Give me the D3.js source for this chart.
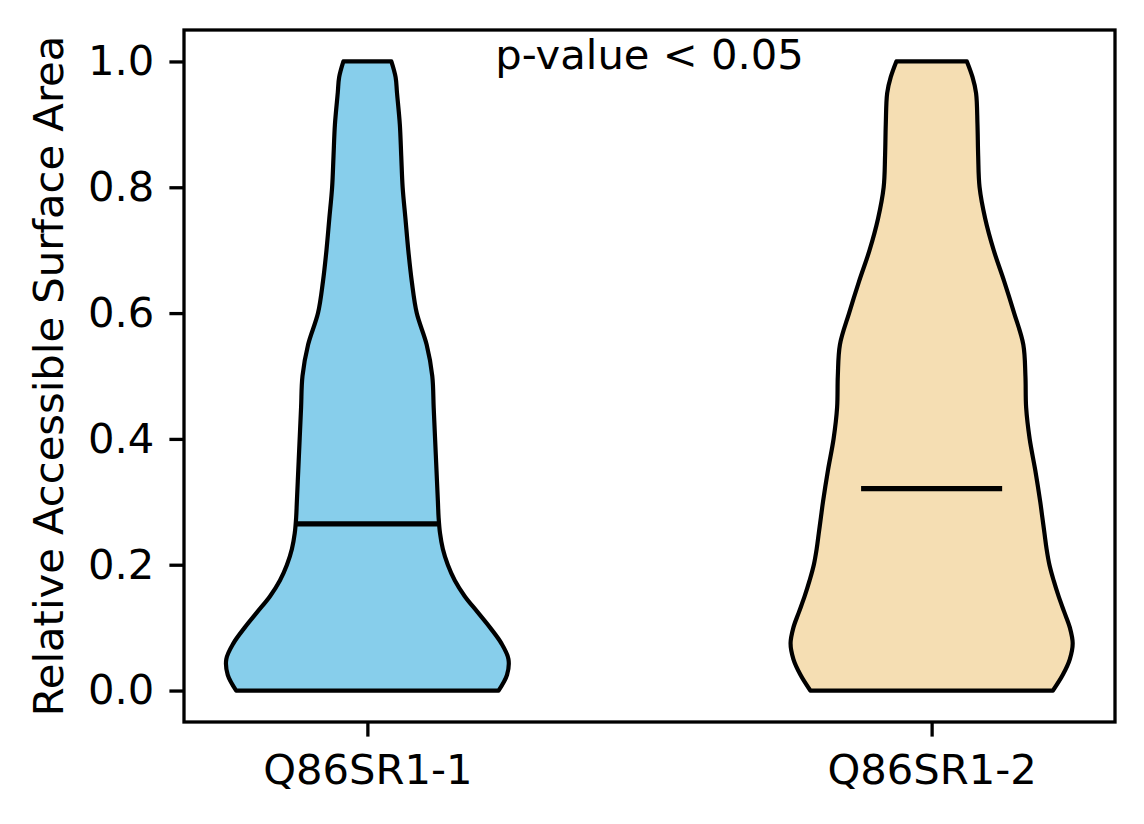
<!DOCTYPE html>
<html>
<head>
<meta charset="utf-8">
<script src="https://cdn.jsdelivr.net/npm/d3@7"></script>
<style>
  body { margin: 0; background: white; }
  svg { display: block; font-family: "DejaVu Sans", sans-serif; }
</style>
</head>
<body>
<div id="chart"></div>
<script>
// groups and their colours
var categories = ["Q86SR1-1", "Q86SR1-2"];
var positions = [1, 2];
var fills = ["#87CEEB", "#F5DEB3"];

var levels = [0, 0.025, 0.05, 0.075, 0.1, 0.125, 0.15, 0.175, 0.2, 0.225, 0.25, 0.275, 0.3,
  0.35, 0.4, 0.45, 0.5, 0.55, 0.6, 0.65, 0.7, 0.75, 0.8, 0.85, 0.9, 0.95, 0.975, 1.0];

// kernel density, scaled so the widest point is 1
var density1 = [0.93, 0.99, 1.00, 0.95, 0.87, 0.78, 0.69, 0.62, 0.57, 0.535, 0.515, 0.505, 0.50,
  0.49, 0.48, 0.47, 0.46, 0.42, 0.35, 0.315, 0.29, 0.27, 0.25, 0.24, 0.23, 0.21, 0.20, 0.17];
var density2 = [0.86, 0.93, 0.98, 1.00, 0.98, 0.94, 0.90, 0.865, 0.835, 0.815, 0.80, 0.785, 0.77,
  0.735, 0.695, 0.67, 0.665, 0.65, 0.585, 0.515, 0.44, 0.38, 0.34, 0.33, 0.325, 0.315, 0.29, 0.25];
var densities = [density1, density2];

var means = [0.265, 0.321];
var yTicks = [0.0, 0.2, 0.4, 0.6, 0.8, 1.0];
var violinWidth = 0.5;

var width = 1144, height = 824;
// plot box (note: "top" is taken by window.top, so use other names)
var boxL = 184, boxR = 1115, boxT = 30, boxB = 722;
var fs = 41.7;

var svg = d3.select("#chart").append("svg").attr("width", width).attr("height", height);

var x = d3.scaleLinear().domain([0.675, 2.325]).range([boxL, boxR]);
var y = d3.scaleLinear().domain([-0.05, 1.05]).range([boxB, boxT]);

var area = d3.area()
  .y(function(d){ return y(d.v); })
  .x0(function(d){ return x(d.p - d.d * violinWidth / 2); })
  .x1(function(d){ return x(d.p + d.d * violinWidth / 2); })
  .curve(d3.curveCatmullRom);

for(var i = 0; i < categories.length; i++){
  var pts = levels.map(function(v, j){ return {v: v, d: densities[i][j], p: positions[i]}; });
  svg.append("path").attr("d", area(pts))
    .style("fill", fills[i]).style("stroke", "black").style("stroke-width", 4.2)
    .style("stroke-linejoin", "round");
  svg.append("line")
    .attr("x1", x(positions[i] - violinWidth / 4)).attr("x2", x(positions[i] + violinWidth / 4))
    .attr("y1", y(means[i])).attr("y2", y(means[i]))
    .style("stroke", "black").style("stroke-width", 5.4);
}

// axes
var xAxis = d3.axisBottom(x).tickValues(positions)
  .tickFormat(function(d, i){ return categories[i]; })
  .tickSize(14.6).tickPadding(18);
var gx = svg.append("g").attr("transform", "translate(0," + boxB + ")").call(xAxis);

var yAxis = d3.axisLeft(y).tickValues(yTicks).tickFormat(d3.format(".1f"))
  .tickSize(14.6).tickPadding(15);
var gy = svg.append("g").attr("transform", "translate(" + boxL + ",0)").call(yAxis);

[gx, gy].forEach(function(g){
  g.select(".domain").remove();
  g.selectAll(".tick line").style("stroke", "black").style("stroke-width", 3.3);
  g.selectAll(".tick text").style("font-size", fs + "px").style("fill", "black")
    .style("font-family", "DejaVu Sans, sans-serif");
});

svg.append("rect").attr("x", boxL).attr("y", boxT)
  .attr("width", boxR - boxL).attr("height", boxB - boxT)
  .style("fill", "none").style("stroke", "black").style("stroke-width", 3.3);

svg.append("text")
  .attr("transform", "translate(63," + ((boxT + boxB) / 2) + ") rotate(-90)")
  .attr("text-anchor", "middle")
  .style("font-size", fs + "px")
  .text("Relative Accessible Surface Area");

svg.append("text")
  .attr("x", x(1.5)).attr("y", 69)
  .attr("text-anchor", "middle")
  .style("font-size", fs + "px")
  .text("p-value < 0.05");
</script>
</body>
</html>
